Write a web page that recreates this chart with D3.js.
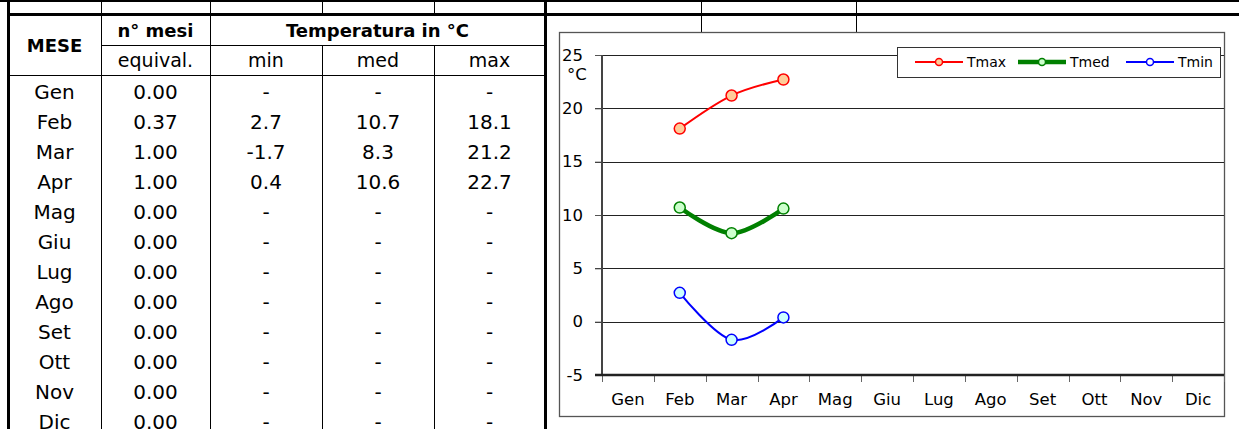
<!DOCTYPE html>
<html>
<head>
<meta charset="utf-8">
<script src="https://cdn.jsdelivr.net/npm/d3@7"></script>
<style>
  body { margin: 0; background: #fff; }
  text { font-family: "DejaVu Sans", Tahoma, sans-serif; fill: #000; }
</style>
</head>
<body>
<script>
var width = 1239,
    height = 429;

// dati
var months = ["Gen", "Feb", "Mar", "Apr", "Mag", "Giu", "Lug", "Ago", "Set", "Ott", "Nov", "Dic"];
var mesiEquiv = [0.00, 0.37, 1.00, 1.00, 0.00, 0.00, 0.00, 0.00, 0.00, 0.00, 0.00, 0.00];
var tMin = [null, 2.7, -1.7, 0.4, null, null, null, null, null, null, null, null];
var tMed = [null, 10.7, 8.3, 10.6, null, null, null, null, null, null, null, null];
var tMax = [null, 18.1, 21.2, 22.7, null, null, null, null, null, null, null, null];
var yTicks = [-5, 0, 5, 10, 15, 20, 25];
var seriesNames = ["Tmax", "Tmed", "Tmin"];

var svg = d3.select("body")
    .append("svg")
    .attr("width", width)
    .attr("height", height);

// ---------- tabella ----------
var colX = [8, 101, 210, 322, 434, 545];
var rowTop = 75, rowH = 30;

function hline(x1, x2, y, w) {
    svg.append("line").attr("x1", x1).attr("x2", x2).attr("y1", y).attr("y2", y)
        .attr("stroke", "#000").attr("stroke-width", w || 1);
}
function vline(x, y1, y2, w) {
    svg.append("line").attr("x1", x).attr("x2", x).attr("y1", y1).attr("y2", y2)
        .attr("stroke", "#000").attr("stroke-width", w || 1);
}

// striscia in alto
hline(0, width, 1, 2);
[101, 210, 322, 434, 701, 856].forEach(function(x) { vline(x + 0.5, 0, 14); });
vline(8.5, 0, height, 3);
vline(545.5, 0, height, 3);
hline(7, width, 14.5, 3);

// celle sopra il grafico
vline(701.5, 16, 33);
vline(856.5, 16, 33);

// griglia della tabella
hline(101, 545, 45.5);
hline(8, 545, 75.5);
vline(101.5, 16, height);
vline(210.5, 16, height);
vline(322.5, 45, height);
vline(434.5, 45, height);

function cellText(x, y, t, bold, size) {
    svg.append("text")
        .attr("x", x).attr("y", y)
        .attr("text-anchor", "middle")
        .style("font-size", (size || 20) + "px")
        .style("font-weight", bold ? "bold" : "normal")
        .text(t);
}

cellText((colX[0] + colX[1]) / 2, 52, "MESE", true, 18);
cellText((colX[1] + colX[2]) / 2, 37, "n° mesi", true, 18);
cellText((colX[2] + colX[5]) / 2, 37, "Temperatura in °C", true, 18);
cellText((colX[1] + colX[2]) / 2, 67, "equival.", false, 19);
cellText((colX[2] + colX[3]) / 2, 67, "min", false, 19);
cellText((colX[3] + colX[4]) / 2, 67, "med", false, 19);
cellText((colX[4] + colX[5]) / 2, 67, "max", false, 19);

function fmt(v) { return v == null ? "-" : v.toFixed(1); }

months.forEach(function(m, i) {
    var y = rowTop + i * rowH + 24;
    cellText((colX[0] + colX[1]) / 2, y, m);
    cellText((colX[1] + colX[2]) / 2, y, mesiEquiv[i].toFixed(2));
    cellText((colX[2] + colX[3]) / 2, y, fmt(tMin[i]));
    cellText((colX[3] + colX[4]) / 2, y, fmt(tMed[i]));
    cellText((colX[4] + colX[5]) / 2, y, fmt(tMax[i]));
});

// ---------- grafico ----------
svg.append("rect")
    .attr("x", 559.5).attr("y", 32.5)
    .attr("width", 665).attr("height", 384)
    .attr("fill", "#fff")
    .attr("stroke", "#555")
    .attr("stroke-width", 1.3);

var plotL = 602, plotR = 1224, plotT = 55, plotB = 375;

var xScale = d3.scaleBand()
    .domain(months)
    .range([plotL, plotR]);

var yScale = d3.scaleLinear()
    .domain([-5, 25])
    .range([plotB, plotT]);

// griglia orizzontale
svg.selectAll(".grid")
    .data(yTicks.filter(function(d) { return d > -5; }))
    .enter()
    .append("line")
    .attr("class", "grid")
    .attr("x1", plotL - 7).attr("x2", plotR)
    .attr("y1", function(d) { return Math.round(yScale(d)) + 0.5; })
    .attr("y2", function(d) { return Math.round(yScale(d)) + 0.5; })
    .attr("stroke", "#222");

var yAxis = d3.axisLeft(yScale)
    .tickValues(yTicks)
    .tickSize(7)
    .tickPadding(12)
    .tickFormat(function(d) { return String(d); });

var gy = svg.append("g")
    .attr("transform", "translate(" + plotL + ",0)")
    .call(yAxis);
gy.select(".domain").remove();
gy.selectAll("line").attr("stroke", "#555");
gy.selectAll("text").style("font-size", "16.5px").attr("fill", "#000");

svg.append("text")
    .attr("x", 567).attr("y", 80)
    .style("font-size", "16.5px")
    .text("°C");

// asse verticale
svg.append("line")
    .attr("x1", plotL).attr("x2", plotL)
    .attr("y1", plotT).attr("y2", plotB)
    .attr("stroke", "#444").attr("stroke-width", 2);

// asse x
var xAxis = d3.axisBottom(xScale).tickSize(0).tickPadding(18);
var gx = svg.append("g")
    .attr("transform", "translate(0," + plotB + ")")
    .call(xAxis);
gx.select(".domain").remove();
gx.selectAll("text").style("font-size", "16.5px").attr("fill", "#000");

svg.selectAll(".xtick")
    .data(months.concat(["end"]))
    .enter()
    .append("line")
    .attr("class", "xtick")
    .attr("x1", function(d, i) { return Math.round(plotL + i * xScale.bandwidth()) + 0.5; })
    .attr("x2", function(d, i) { return Math.round(plotL + i * xScale.bandwidth()) + 0.5; })
    .attr("y1", plotB).attr("y2", plotB + 7)
    .attr("stroke", "#666");

svg.append("line")
    .attr("x1", plotL - 7).attr("x2", plotR)
    .attr("y1", plotB).attr("y2", plotB)
    .attr("stroke", "#222").attr("stroke-width", 2.5);

// serie
var series = [
    { name: "Tmax", values: tMax, color: "#ff0000", fill: "#ffcc99", width: 2 },
    { name: "Tmed", values: tMed, color: "#008000", fill: "#ccffcc", width: 4.5 },
    { name: "Tmin", values: tMin, color: "#0000ff", fill: "#ccffff", width: 2 }
];

var line = d3.line()
    .defined(function(d) { return d != null; })
    .x(function(d, i) { return xScale(months[i]) + xScale.bandwidth() / 2; })
    .y(function(d) { return yScale(d); })
    .curve(d3.curveCardinal.tension(0));

series.forEach(function(s) {
    svg.append("path")
        .datum(s.values)
        .attr("d", line)
        .attr("fill", "none")
        .attr("stroke", s.color)
        .attr("stroke-width", s.width);

    svg.selectAll(".pt-" + s.name)
        .data(s.values.map(function(v, i) { return { v: v, m: months[i] }; })
            .filter(function(d) { return d.v != null; }))
        .enter()
        .append("circle")
        .attr("cx", function(d) { return xScale(d.m) + xScale.bandwidth() / 2; })
        .attr("cy", function(d) { return yScale(d.v); })
        .attr("r", 5.5)
        .attr("fill", s.fill)
        .attr("stroke", s.color)
        .attr("stroke-width", 1.5);
});

// legenda
var legend = svg.append("g").attr("transform", "translate(897,47)");
legend.append("rect")
    .attr("x", 0.5).attr("y", 0.5)
    .attr("width", 323).attr("height", 30)
    .attr("fill", "#fff")
    .attr("stroke", "#333");

var legX = [18, 121, 229];
series.forEach(function(s, i) {
    var g = legend.append("g").attr("transform", "translate(" + legX[i] + ",15)");
    g.append("line")
        .attr("x1", 0).attr("x2", 48)
        .attr("stroke", s.color)
        .attr("stroke-width", s.width);
    g.append("circle")
        .attr("cx", 24).attr("r", 3.5)
        .attr("fill", i == 2 ? "#fff" : s.fill)
        .attr("stroke", s.color)
        .attr("stroke-width", 1.5);
    g.append("text")
        .attr("x", 52).attr("y", 5)
        .style("font-size", "14px")
        .text(s.name);
});
</script>
</body>
</html>
